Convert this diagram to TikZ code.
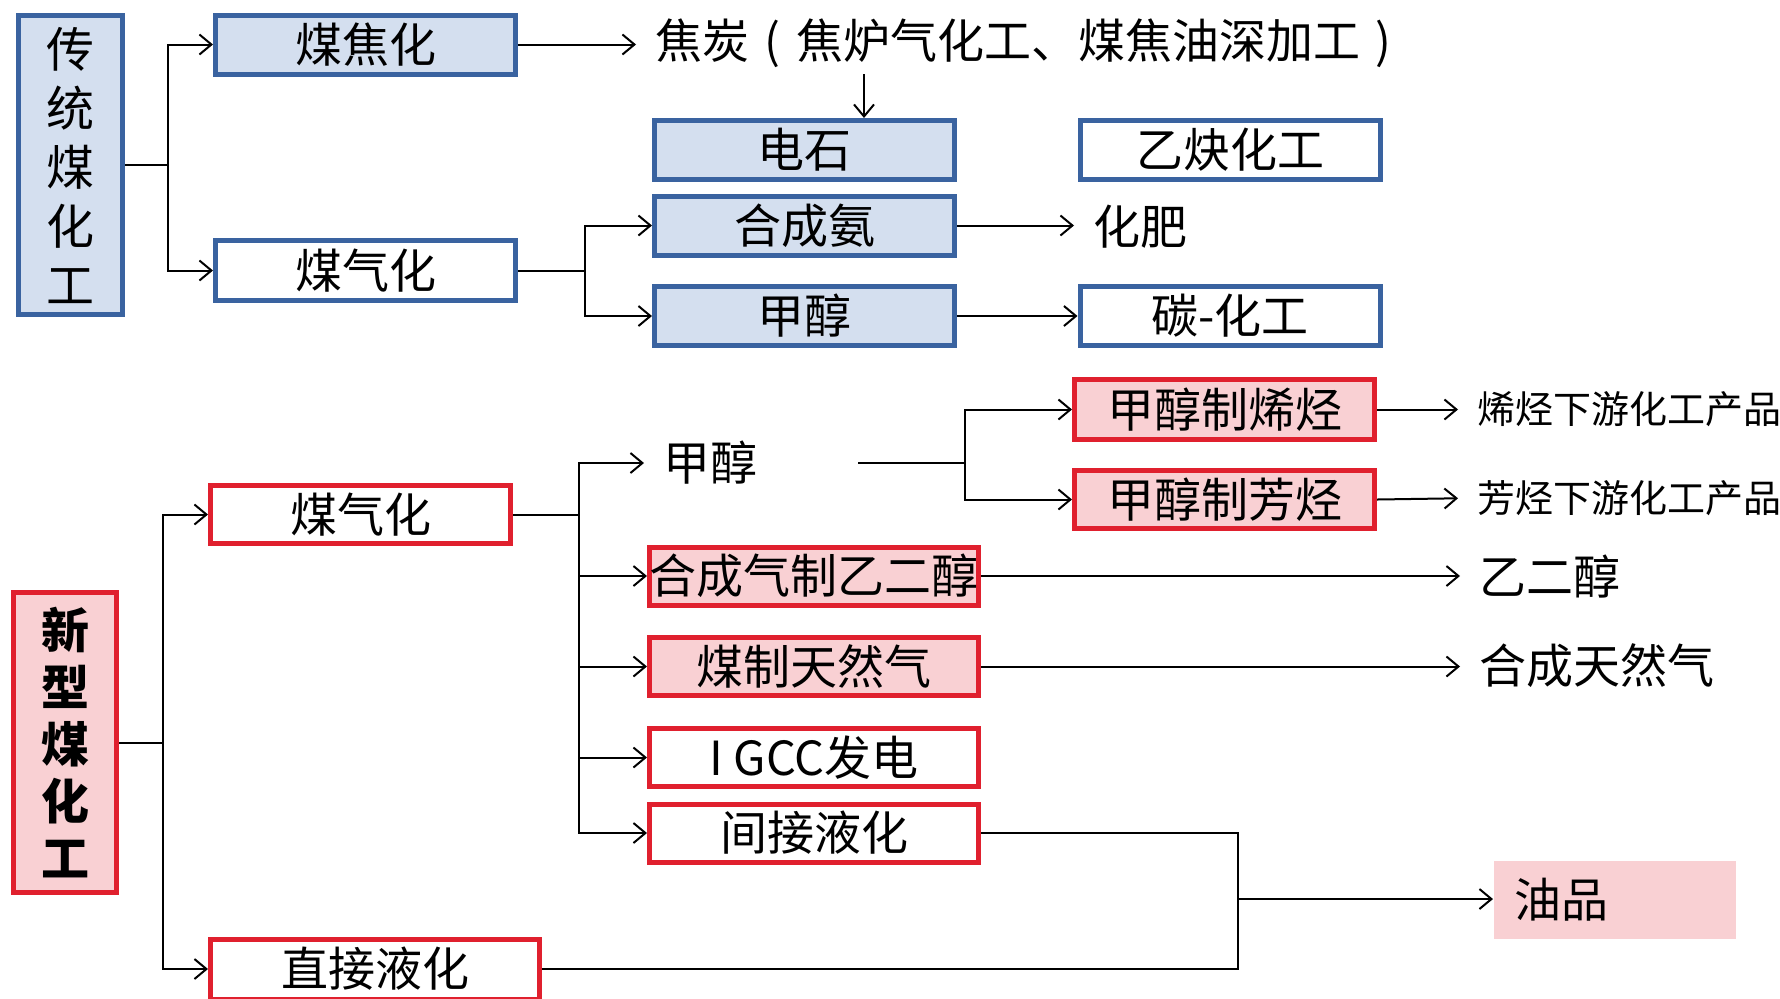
\documentclass[tikz,border=0pt]{standalone}
\usepackage{fontspec}
\setmainfont{Noto Sans CJK SC}
\usetikzlibrary{arrows.meta}

\definecolor{bhblue}{HTML}{3A63A0}
\definecolor{bhbluefill}{HTML}{D4DFEF}
\definecolor{bhred}{HTML}{E0202E}
\definecolor{bhpink}{HTML}{F9D0D3}

\begin{document}
\begin{tikzpicture}[x=0.5pt,y=-0.5pt,
    line width=1pt,
    arr/.style={-{Straight Barb[length=6pt,width=10pt]}},
    txtgap/.style={shorten >=9pt},
    blk/.style={draw, line width=2.5pt, inner sep=0pt, minimum width=150pt, minimum height=29.5pt,
                font=\fontsize{23.5pt}{28pt}\selectfont},
    bluebox/.style={blk, draw=bhblue, fill=bhbluefill},
    bluewhite/.style={blk, draw=bhblue, fill=white},
    redbox/.style={blk, draw=bhred, fill=bhpink},
    redwhite/.style={blk, draw=bhred, fill=white},
    wide/.style={minimum width=164.5pt},
    txt/.style={anchor=west, inner sep=0pt, font=\fontsize{23.5pt}{28pt}\selectfont},
    smalltxt/.style={txt, font=\fontsize{19pt}{23pt}\selectfont}]

    \useasboundingbox (0,0) rectangle (1780,998);

    % traditional coal chemistry
    \node[bluebox, minimum width=52pt, minimum height=149.5pt, align=center,
          font=\fontsize{24pt}{29.5pt}\selectfont] (trad) at (70.5,165) {传\\统\\煤\\化\\工};
    \node[bluebox] (coke) at (365.5,44.5) {煤焦化};
    \node[bluewhite, minimum height=30pt] (gasA) at (365.5,270.5) {煤气化};
    \node[txt] (cokeOut) at (654,43)
        {焦炭\makebox[1em]{(}焦炉气化工\makebox[1em][l]{、}煤焦油深加工\makebox[1em]{)}};
    \node[bluebox] (carbide) at (804.5,150) {电石};
    \node[bluebox] (ammonia) at (804.5,225.5) {合成氨};
    \node[bluebox] (methA) at (804.5,316) {甲醇};
    \node[bluewhite] (acet) at (1230,150) {乙炔化工};
    \node[txt] (fert) at (1092,227) {化肥};
    \node[bluewhite] (carbchem) at (1230,316) {碳-化工};

    \coordinate (tradFork) at (168,165);
    \draw (trad.east) -- (tradFork);
    \draw[arr] (tradFork) |- (coke.west);
    \draw[arr] (tradFork) |- (gasA.west);
    \draw[arr,txtgap] (coke.east) -- (coke.east -| cokeOut.west);
    \coordinate (cokeTap) at (864,74);
    \draw[arr] (cokeTap) -- (cokeTap |- carbide.north);
    \coordinate (gasAFork) at (585,270.5);
    \draw (gasA.east) -- (gasAFork);
    \draw[arr] (gasAFork) |- (ammonia.west);
    \draw[arr] (gasAFork) |- (methA.west);
    \draw[arr,txtgap] (ammonia.east) -- (ammonia.east -| fert.west);
    \draw[arr] (methA.east) -- (carbchem.west);

    % new coal chemistry
    \node[redbox, minimum width=51.5pt, minimum height=150pt, align=center,
          font=\bfseries\fontsize{24pt}{28.5pt}\selectfont] (newc) at (65,742.5) {新\\型\\煤\\化\\工};
    \node[redwhite, minimum height=29pt] (gasB) at (360.5,514.5) {煤气化};
    \node[redwhite, minimum width=164.5pt, minimum height=30pt] (directliq) at (375,969) {直接液化};
    \node[txt] (methB) at (662,463) {甲醇};
    \node[redbox, minimum height=30pt] (mto) at (1224.5,409.5) {甲醇制烯烃};
    \node[redbox, minimum height=29pt] (mta) at (1224.5,499.5) {甲醇制芳烃};
    \node[smalltxt] (olef) at (1476,409) {烯烃下游化工产品};
    \node[smalltxt] (arom) at (1476,498) {芳烃下游化工产品};
    \node[redbox, wide, minimum height=29pt] (eg) at (814,576) {\makebox[0pt]{合成气制乙二醇}};
    \node[redbox, wide, minimum height=29pt] (sng) at (814,666.5) {煤制天然气};
    \node[redwhite, wide, minimum height=29pt] (igcc) at (814,757.5) {I GCC发电};
    \node[redwhite, wide, minimum height=29pt] (indirect) at (814,833) {间接液化};
    \node[txt] (egOut) at (1478,576) {乙二醇};
    \node[txt] (sngOut) at (1478,666) {合成天然气};
    \node[fill=bhpink, minimum width=121pt, minimum height=39pt, text width=101pt, inner xsep=10pt,
          inner ysep=0pt, align=left, font=\fontsize{23.5pt}{28pt}\selectfont] (oil) at (1615,900) {油品};

    \coordinate (newFork) at (163,742.5);
    \draw (newc.east) -- (newFork);
    \draw[arr] (newFork) |- (gasB.west);
    \draw[arr] (newFork) |- (directliq.west);
    \coordinate (gasBFork) at (579,514.5);
    \draw (gasB.east) -- (gasBFork);
    \draw[arr,txtgap] (gasBFork) |- (methB.west);
    \draw[arr] (gasBFork) |- (eg.west);
    \draw[arr] (gasBFork) |- (sng.west);
    \draw[arr] (gasBFork) |- (igcc.west);
    \draw[arr] (gasBFork) |- (indirect.west);
    \coordinate (methTap) at (858,463);
    \coordinate (methFork) at (965,463);
    \draw (methTap) -- (methFork);
    \draw[arr] (methFork) |- (mto.west);
    \draw[arr] (methFork) |- (mta.west);
    \draw[arr,txtgap] (mto.east) -- (mto.east -| olef.west);
    \draw[arr,txtgap] (mta.east) -- (arom.west);
    \draw[arr,txtgap] (eg.east) -- (eg.east -| egOut.west);
    \draw[arr,txtgap] (sng.east) -- (sng.east -| sngOut.west);
    \coordinate (oilJoin) at (1238,899);
    \draw (indirect.east) -| (oilJoin);
    \draw (directliq.east) -| (oilJoin);
    \draw[arr] (oilJoin) -- (oilJoin -| oil.west);
\end{tikzpicture}
\end{document}
